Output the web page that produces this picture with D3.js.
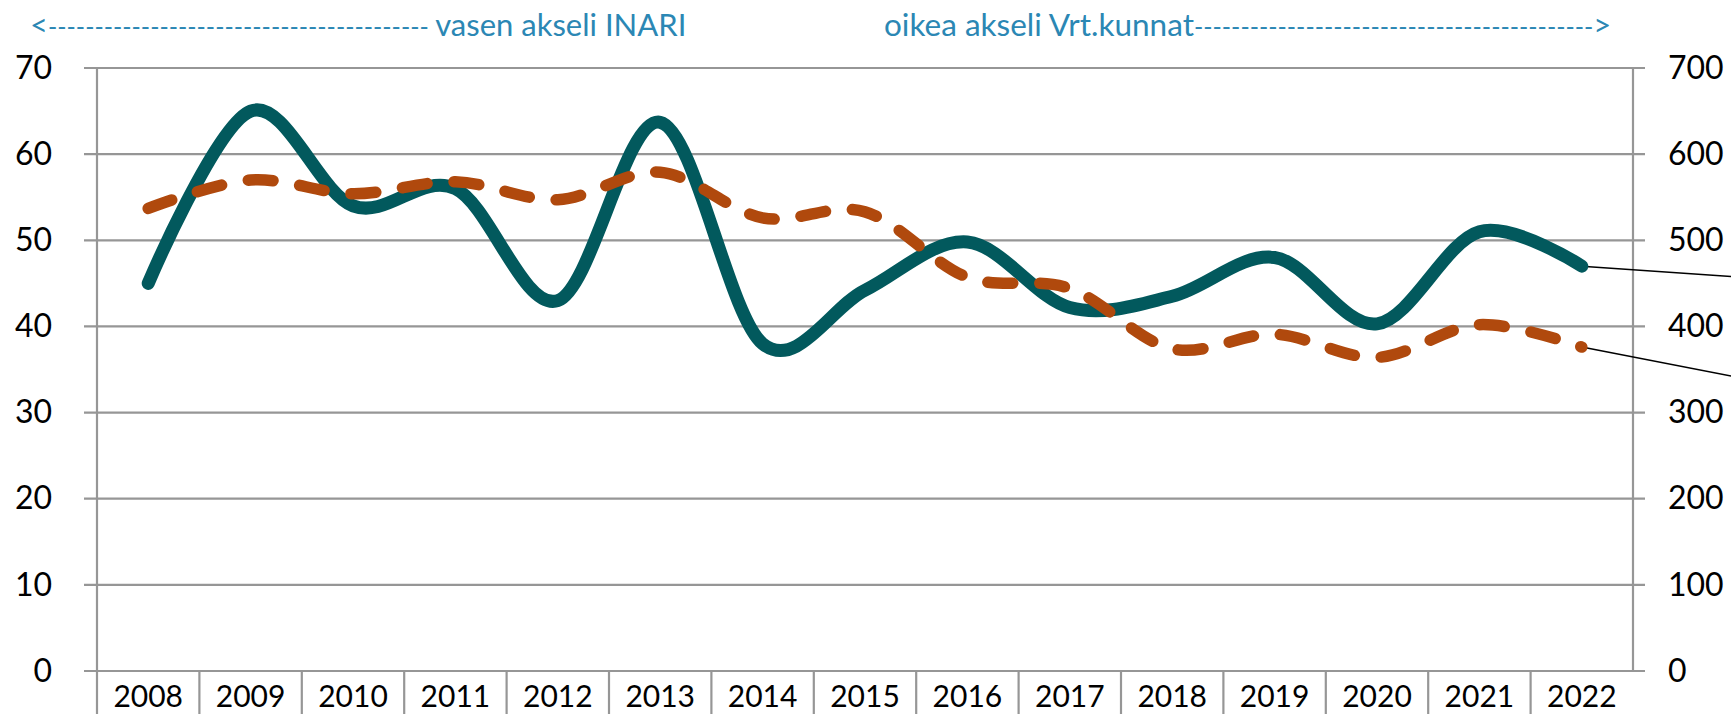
<!doctype html>
<html lang="fi">
<head>
<meta charset="utf-8">
<title>Inari vs Vrt.kunnat</title>
<script src="https://cdn.jsdelivr.net/npm/d3@7"></script>
<style>
  html, body { margin: 0; padding: 0; background: #fff; }
  svg { display: block; }
  text { font-family: Lato, "Open Sans", sans-serif; fill: #000; }
  .title { fill: #2b87b4; font-size: 31px; }
</style>
</head>
<body>
<svg id="chart" width="1731" height="714"></svg>
<script>
// vuodet
var years = ["2008","2009","2010","2011","2012","2013","2014","2015",
             "2016","2017","2018","2019","2020","2021","2022"];
// vasen akseli: INARI
var inari = [45, 65, 54, 56, 43, 63.7, 38, 44.2, 49.8, 42.2, 43.5, 48, 40.3, 51, 47];
// oikea akseli: Vrt.kunnat
var vrt = [537, 570, 554, 568, 547, 579, 526, 533, 457, 444, 374, 391, 364, 402, 376];
var leftTicks = [0, 10, 20, 30, 40, 50, 60, 70];
var rightTicks = [0, 100, 200, 300, 400, 500, 600, 700];

var W = 1731, H = 714;
var m = { left: 97, right: 1633, top: 68, bottom: 671 };
var grey = "#969696";

var svg = d3.select("#chart");

var x = d3.scaleBand().domain(years).range([m.left, m.right]);
var yL = d3.scaleLinear().domain([0, 70]).range([m.bottom, m.top]);
var yR = d3.scaleLinear().domain([0, 700]).range([m.bottom, m.top]);
var cx = function(i) { return x(years[i]) + x.bandwidth() / 2; };

// gridlines
svg.append("g").selectAll("line").data(leftTicks).join("line")
  .attr("x1", m.left - 13).attr("x2", m.right + 12)
  .attr("y1", function(d) { return yL(d); }).attr("y2", function(d) { return yL(d); })
  .attr("stroke", grey).attr("stroke-width", 2.2);

// vertical axes
svg.append("line").attr("x1", m.left).attr("x2", m.left).attr("y1", m.top).attr("y2", H)
  .attr("stroke", grey).attr("stroke-width", 2.2);
svg.append("line").attr("x1", m.right).attr("x2", m.right).attr("y1", m.top).attr("y2", m.bottom)
  .attr("stroke", grey).attr("stroke-width", 2.2);

// category separators under the axis
svg.append("g").selectAll("line").data(years.slice(1)).join("line")
  .attr("x1", function(d) { return x(d); }).attr("x2", function(d) { return x(d); })
  .attr("y1", m.bottom).attr("y2", H)
  .attr("stroke", grey).attr("stroke-width", 2.2);

// axis labels
var yAxisL = d3.axisLeft(yL).tickValues(leftTicks).tickSize(0).tickPadding(45);
var gL = svg.append("g").attr("transform", "translate(" + m.left + ",0)").call(yAxisL);
var yAxisR = d3.axisRight(yR).tickValues(rightTicks).tickSize(0).tickPadding(35);
var gR = svg.append("g").attr("transform", "translate(" + m.right + ",0)").call(yAxisR);
[gL, gR].forEach(function(g) {
  g.select(".domain").remove();
  g.selectAll("text").attr("font-size", 32).attr("font-family", "Lato, sans-serif").attr("fill", "#000");
});

var xAxis = d3.axisBottom(x).tickSize(0).tickPadding(12);
var gX = svg.append("g").attr("transform", "translate(0," + m.bottom + ")").call(xAxis);
gX.select(".domain").remove();
gX.selectAll("text").attr("font-size", 30).attr("font-family", "Lato, sans-serif")
  .attr("fill", "#000").attr("dy", "0.8em");

// series lines
var lineL = d3.line().x(function(d, i) { return cx(i); }).y(function(d) { return yL(d); })
  .curve(d3.curveCatmullRom.alpha(0));
var lineR = d3.line().x(function(d, i) { return cx(i); }).y(function(d) { return yR(d); })
  .curve(d3.curveCatmullRom.alpha(0));

// leader lines to data labels outside the picture
var last = years.length - 1;
svg.append("line").attr("x1", cx(last)).attr("y1", yL(inari[last]))
  .attr("x2", cx(last) + 160).attr("y2", yL(inari[last]) + 11)
  .attr("stroke", "#000").attr("stroke-width", 1.5);
svg.append("line").attr("x1", cx(last)).attr("y1", yR(vrt[last]))
  .attr("x2", cx(last) + 160).attr("y2", yR(vrt[last]) + 31)
  .attr("stroke", "#000").attr("stroke-width", 1.5);

svg.append("path").datum(inari).attr("d", lineL)
  .attr("fill", "none").attr("stroke", "#02595d").attr("stroke-width", 13)
  .attr("stroke-linecap", "round").attr("stroke-linejoin", "round");
svg.append("path").datum(vrt).attr("d", lineR)
  .attr("fill", "none").attr("stroke", "#b0490d").attr("stroke-width", 11.5)
  .attr("stroke-linecap", "round").attr("stroke-dasharray", "25 27");

// axis captions
var t1 = svg.append("text").attr("class", "title").attr("x", 30).attr("y", 36);
t1.append("tspan").text("<");
t1.append("tspan").attr("font-size", 25).text("-".repeat(41) + "  ");
t1.append("tspan").text("vasen akseli INARI");

var t2 = svg.append("text").attr("class", "title").attr("x", 884).attr("y", 36);
t2.append("tspan").attr("font-size", 31.5).text("oikea akseli Vrt.kunnat");
t2.append("tspan").attr("font-size", 25).text("-".repeat(43));
t2.append("tspan").text(">");
</script>
</body>
</html>
